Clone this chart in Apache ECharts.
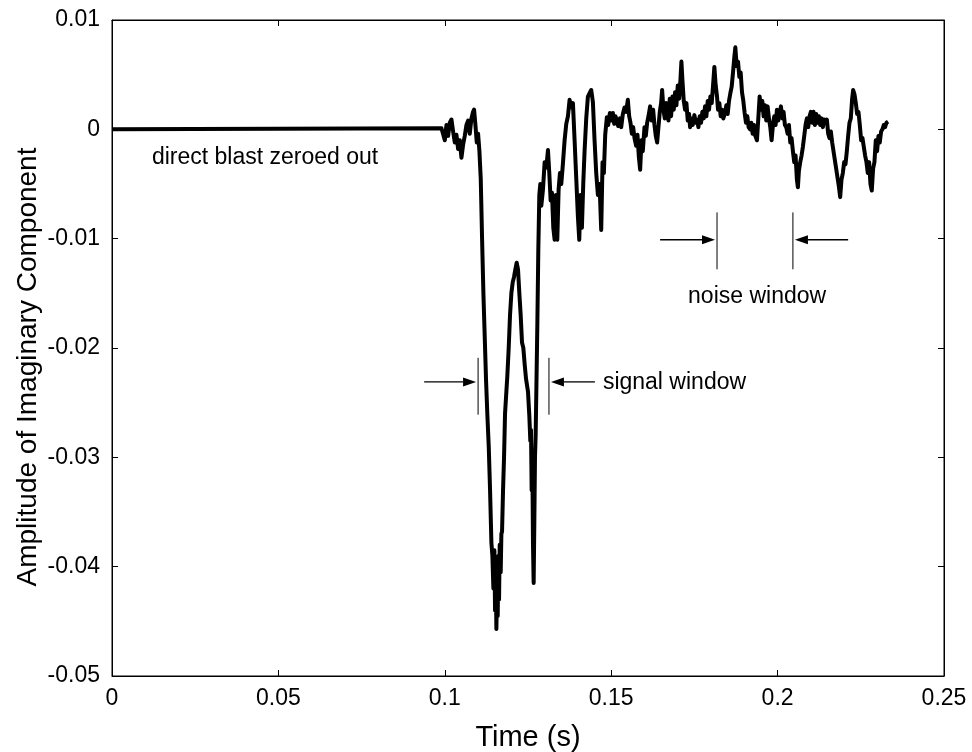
<!DOCTYPE html>
<html lang="en">
<head>
<meta charset="utf-8">
<title>imaginary component</title>
<script src="https://cdn.jsdelivr.net/npm/echarts@6/dist/echarts.min.js"></script>
<style>html,body{margin:0;background:#fff;}</style>
</head>
<body>
<div id="chart" style="width:972px;height:752px;"></div>
<script>
// time (s) and amplitude
var timeS = [
    0, 0.0990, 0.0995, 0.1000, 0.1005, 0.1010, 0.1015, 0.1020, 0.1025, 0.1030, 0.1035, 0.1040, 0.1045, 0.1050,
    0.1055, 0.1060, 0.1065, 0.1070, 0.1075, 0.1080, 0.1085, 0.1088, 0.1092, 0.1096, 0.1100, 0.1104, 0.1108,
    0.1112, 0.1116, 0.1120, 0.1124, 0.1128, 0.1132, 0.1136, 0.1140, 0.1143, 0.1146, 0.1149, 0.1151, 0.1153,
    0.1155, 0.1157, 0.1159, 0.1161, 0.1163, 0.1165, 0.1168, 0.1170, 0.1172, 0.1175, 0.1178, 0.1181, 0.1185,
    0.1188, 0.1192, 0.1196, 0.1200, 0.1204, 0.1208, 0.1212, 0.1216, 0.1220, 0.1224, 0.1228, 0.1232, 0.1236,
    0.1240, 0.1244, 0.1250, 0.1254, 0.1257, 0.1259, 0.1261, 0.1263, 0.1265, 0.1267, 0.1269, 0.1271, 0.1273,
    0.1275, 0.1278, 0.1281, 0.1284, 0.1287, 0.1290, 0.1295, 0.1300, 0.1305, 0.1310, 0.1314, 0.1318, 0.1322,
    0.1326, 0.1330, 0.1334, 0.1338, 0.1342, 0.1346, 0.1350, 0.1355, 0.1360, 0.1365, 0.1370, 0.1375, 0.1380,
    0.1385, 0.1390, 0.1395, 0.1400, 0.1404, 0.1408, 0.1412, 0.1416, 0.1420, 0.1425, 0.1430, 0.1435, 0.1440,
    0.1445, 0.1450, 0.1455, 0.1460, 0.1465, 0.1470, 0.1474, 0.1478, 0.1482, 0.1487, 0.1491, 0.1496, 0.1500,
    0.1505, 0.1509, 0.1513, 0.1517, 0.1521, 0.1526, 0.1530, 0.1535, 0.1540, 0.1545, 0.1550, 0.1554, 0.1558,
    0.1562, 0.1566, 0.1570, 0.1575, 0.1579, 0.1583, 0.1587, 0.1591, 0.1595, 0.1600, 0.1604, 0.1608, 0.1612,
    0.1617, 0.1621, 0.1626, 0.1630, 0.1634, 0.1638, 0.1642, 0.1646, 0.1650, 0.1653, 0.1657, 0.1661, 0.1665,
    0.1668, 0.1672, 0.1676, 0.1680, 0.1684, 0.1688, 0.1692, 0.1696, 0.1700, 0.1704, 0.1708, 0.1711, 0.1714,
    0.1718, 0.1722, 0.1726, 0.1730, 0.1734, 0.1737, 0.1741, 0.1745, 0.1750, 0.1754, 0.1758, 0.1762, 0.1766,
    0.1770, 0.1774, 0.1778, 0.1782, 0.1786, 0.1790, 0.1794, 0.1798, 0.1802, 0.1806, 0.1810, 0.1814, 0.1818,
    0.1821, 0.1825, 0.1829, 0.1833, 0.1837, 0.1842, 0.1846, 0.1850, 0.1854, 0.1858, 0.1862, 0.1866, 0.1870,
    0.1873, 0.1877, 0.1881, 0.1885, 0.1889, 0.1893, 0.1897, 0.1901, 0.1905, 0.1909, 0.1913, 0.1917, 0.1921,
    0.1925, 0.1929, 0.1933, 0.1938, 0.1942, 0.1946, 0.1950, 0.1954, 0.1958, 0.1962, 0.1966, 0.1970, 0.1974,
    0.1978, 0.1982, 0.1986, 0.1990, 0.1994, 0.1998, 0.2002, 0.2006, 0.2010, 0.2014, 0.2018, 0.2022, 0.2026,
    0.2030, 0.2034, 0.2038, 0.2042, 0.2046, 0.2050, 0.2054, 0.2058, 0.2061, 0.2064, 0.2068, 0.2072, 0.2076,
    0.2080, 0.2084, 0.2088, 0.2092, 0.2096, 0.2100, 0.2104, 0.2108, 0.2112, 0.2116, 0.2120, 0.2124, 0.2128,
    0.2132, 0.2136, 0.2140, 0.2144, 0.2148, 0.2152, 0.2156, 0.2160, 0.2164, 0.2168, 0.2172, 0.2176, 0.2180,
    0.2184, 0.2188, 0.2192, 0.2196, 0.2200, 0.2204, 0.2208, 0.2212, 0.2216, 0.2220, 0.2224, 0.2227, 0.2231,
    0.2235, 0.2239, 0.2243, 0.2247, 0.2251, 0.2255, 0.2259, 0.2263, 0.2267, 0.2271, 0.2275, 0.2279, 0.2283,
    0.2287, 0.2291, 0.2295, 0.2299, 0.2303, 0.2307, 0.2311, 0.2315, 0.2319, 0.2323, 0.2327, 0.2332
];
var amp = [
    0, 0.0001, 0.0002, -0.0010, 0.0004, -0.0006, 0.0006, 0.0009, -0.0002, -0.0012, -0.0005, -0.0018, -0.0010, -0.0026,
    -0.0014, -0.0006, 0.0004, 0.0008, -0.0004, 0.0010, 0.0016, 0.0018, 0.0004, -0.0012, -0.0004, -0.0020, -0.0045,
    -0.0100, -0.0150, -0.0190, -0.0230, -0.0262, -0.0290, -0.0330, -0.0378, -0.0390, -0.0420, -0.0385, -0.0440, -0.0400,
    -0.0457, -0.0420, -0.0445, -0.0390, -0.0430, -0.0380, -0.0405, -0.0370, -0.0368, -0.0330, -0.0300, -0.0260, -0.0240,
    -0.0225, -0.0200, -0.0170, -0.0150, -0.0140, -0.0135, -0.0128, -0.0122, -0.0128, -0.0150, -0.0170, -0.0195, -0.0200,
    -0.0215, -0.0228, -0.0240, -0.0262, -0.0285, -0.0275, -0.0330, -0.0300, -0.0380, -0.0415, -0.0360, -0.0300, -0.0280,
    -0.0240, -0.0180, -0.0110, -0.0060, -0.0050, -0.0070, -0.0055, -0.0030, -0.0035, -0.0019, -0.0040, -0.0065, -0.0058,
    -0.0090, -0.0101, -0.0060, -0.0101, -0.0055, -0.0040, -0.0050, -0.0031, -0.0010, 0.0005, 0.0012, 0.0027, 0.0020,
    0.0024, -0.0010, -0.0045, -0.0080, -0.0101, -0.0060, -0.0090, -0.0050, -0.0020, 0.0010, 0.0030, 0.0033, 0.0036,
    0.0025, -0.0010, -0.0040, -0.0060, -0.0050, -0.0092, -0.0030, -0.0040, -0.0005, 0.0011, 0.0004, 0.0015, 0.0008,
    0.0015, 0.0005, 0.0012, 0.0008, 0.0003, 0.0010, 0.0002, 0.0014, 0.0020, 0.0016, 0.0027, 0.0012, 0.0006,
    -0.0004, 0.0002, -0.0008, -0.0015, -0.0005, -0.0025, -0.0037, -0.0010, -0.0020, 0.0002, -0.0006, 0.0006, 0.0012,
    0.0021, 0.0008, 0.0018, 0.0004, -0.0006, -0.0012, 0.0002, 0.0016, 0.0024, 0.0036, 0.0018, 0.0010, 0.0024,
    0.0021, 0.0008, 0.0028, 0.0012, 0.0030, 0.0018, 0.0034, 0.0022, 0.0040, 0.0028, 0.0045, 0.0062, 0.0045,
    0.0026, 0.0018, 0.0024, 0.0008, 0.0014, 0.0002, 0.0010, 0.0004, 0.0013, 0.0006, 0.0009, 0.0002, 0.0012,
    0.0006, 0.0016, 0.0010, 0.0021, 0.0012, 0.0026, 0.0018, 0.0030, 0.0024, 0.0040, 0.0057, 0.0040, 0.0030,
    0.0018, 0.0024, 0.0012, 0.0018, 0.0010, 0.0015, 0.0022, 0.0014, 0.0026, 0.0033, 0.0039, 0.0052, 0.0066,
    0.0075, 0.0058, 0.0062, 0.0048, 0.0052, 0.0034, 0.0026, 0.0015, 0.0006, 0.0012, 0.0002, 0.0000, 0.0006,
    -0.0004, 0.0004, -0.0006, -0.0010, 0.0010, 0.0030, 0.0018, 0.0026, 0.0012, 0.0022, 0.0008, 0.0021, 0.0010,
    0.0002, -0.0010, 0.0004, 0.0012, 0.0004, 0.0018, 0.0008, 0.0014, 0.0021, 0.0010, 0.0016, 0.0004, 0.0002,
    -0.0004, 0.0004, -0.0012, -0.0008, -0.0020, -0.0030, -0.0024, -0.0046, -0.0053, -0.0038, -0.0030, -0.0024, -0.0016,
    -0.0006, 0.0004, 0.0010, 0.0002, 0.0012, 0.0016, 0.0006, 0.0016, 0.0004, 0.0014, 0.0006, 0.0012, 0.0004,
    0.0010, 0.0002, 0.0009, 0.0006, 0.0009, -0.0004, -0.0008, -0.0002, -0.0012, -0.0020, -0.0028, -0.0036, -0.0044,
    -0.0052, -0.0062, -0.0046, -0.0040, -0.0030, -0.0032, -0.0020, -0.0006, 0.0006, 0.0010, 0.0028, 0.0036, 0.0032,
    0.0024, 0.0014, 0.0016, 0.0004, -0.0010, -0.0008, -0.0016, -0.0024, -0.0030, -0.0040, -0.0030, -0.0050, -0.0056,
    -0.0036, -0.0030, -0.0010, -0.0020, -0.0006, -0.0012, -0.0002, 0.0000, 0.0004, 0.0002, 0.0006, 0.0007
];

// annotation anchors, in data units
var signalBars = [0.1100, 0.1313];
var signalTails = [0.0938, 0.1451];
var signalY = -0.0231, signalBarSpan = [-0.0209, -0.0261];
var noiseBars = [0.1818, 0.2046];
var noiseTails = [0.1647, 0.2212];
var noiseY = -0.0101, noiseBarSpan = [-0.0076, -0.0128];
var notes = [
    { text: 'direct blast zeroed out', t: 0.0120, v: -0.0026 },
    { text: 'signal window', t: 0.1475, v: -0.0232 },
    { text: 'noise window', t: 0.1731, v: -0.0153 }
];

var font = '"Liberation Sans", Arial, sans-serif';
var chart = echarts.init(document.getElementById('chart'));

var series = [];
for (var i = 0; i < timeS.length; i++) series.push([timeS[i], amp[i]]);

function fmt(v) { return String(parseFloat(v.toFixed(2))); }

var tickStyle = { show: true, inside: true, length: 6, lineStyle: { color: '#000', width: 1 } };

chart.setOption({
    animation: false,
    backgroundColor: '#fff',
    grid: {
        left: 112, right: 28, top: 20, bottom: 76, outerBoundsMode: 'none',
        show: true, borderColor: '#000', borderWidth: 1
    },
    xAxis: [{
        type: 'value', min: 0, max: 0.25, interval: 0.05,
        name: 'Time (s)', nameLocation: 'middle', nameGap: 47, nameMoveOverlap: false,
        nameTextStyle: { fontFamily: font, fontSize: 29, color: '#000' },
        axisLine: { show: true, onZero: false, lineStyle: { color: '#000', width: 1 } },
        axisTick: tickStyle,
        axisLabel: { fontFamily: font, fontSize: 23, color: '#000', margin: 11, formatter: fmt },
        splitLine: { show: false }
    }, {
        type: 'value', position: 'top', min: 0, max: 0.25, interval: 0.05,
        axisLine: { show: true, onZero: false, lineStyle: { color: '#000', width: 1 } },
        axisTick: tickStyle, axisLabel: { show: false }, splitLine: { show: false }
    }],
    yAxis: [{
        type: 'value', min: -0.05, max: 0.01, interval: 0.01,
        name: 'Amplitude of Imaginary Component', nameLocation: 'middle', nameGap: 70, nameMoveOverlap: false,
        nameTextStyle: { fontFamily: font, fontSize: 28, color: '#000', padding: [0, 38, 0, 0] },
        axisLine: { show: true, onZero: false, lineStyle: { color: '#000', width: 1 } },
        axisTick: tickStyle,
        axisLabel: { fontFamily: font, fontSize: 23, color: '#000', margin: 12, formatter: fmt },
        splitLine: { show: false }
    }, {
        type: 'value', position: 'right', min: -0.05, max: 0.01, interval: 0.01,
        axisLine: { show: true, onZero: false, lineStyle: { color: '#000', width: 1 } },
        axisTick: tickStyle, axisLabel: { show: false }, splitLine: { show: false }
    }],
    series: [{
        type: 'line', data: series, showSymbol: false,
        lineStyle: { color: '#000', width: 4, join: 'round' }
    }]
});

function px(t, v) { return chart.convertToPixel({ xAxisIndex: 0, yAxisIndex: 0 }, [t, v]); }

function arrow(tail, tip) {
    var dir = tip[0] > tail[0] ? 1 : -1;
    var head = 13;
    return [{
        type: 'line', shape: { x1: tail[0], y1: tail[1], x2: tip[0] - dir * head, y2: tip[1] },
        style: { stroke: '#000', lineWidth: 1.3 }
    }, {
        type: 'polygon',
        shape: { points: [[tip[0], tip[1]], [tip[0] - dir * head, tip[1] - 4.5], [tip[0] - dir * head, tip[1] + 4.5]] },
        style: { fill: '#000' }
    }];
}

function windowMarks(bars, tails, y, span) {
    var out = [];
    for (var k = 0; k < 2; k++) {
        var top = px(bars[k], span[0]), bot = px(bars[k], span[1]);
        out.push({ type: 'line', shape: { x1: top[0], y1: top[1], x2: bot[0], y2: bot[1] }, style: { stroke: '#000', lineWidth: 1 } });
        var tip = px(bars[k], y), tail = px(tails[k], y);
        tip[0] += k === 0 ? -2 : 2;
        out = out.concat(arrow(tail, tip));
    }
    return out;
}

var graphics = [];
graphics = graphics.concat(windowMarks(signalBars, signalTails, signalY, signalBarSpan));
graphics = graphics.concat(windowMarks(noiseBars, noiseTails, noiseY, noiseBarSpan));
notes.forEach(function (n) {
    var p = px(n.t, n.v);
    graphics.push({
        type: 'text', x: p[0], y: p[1],
        style: { text: n.text, font: '23px ' + font, fill: '#000', verticalAlign: 'middle', align: 'left' }
    });
});
chart.setOption({ graphic: graphics });
</script>
</body>
</html>
